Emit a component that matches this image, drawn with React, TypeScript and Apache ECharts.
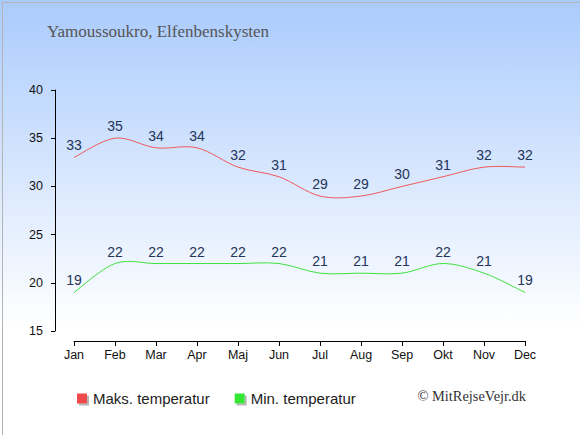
import React, { useEffect, useRef } from "react";
import * as echarts from "echarts";

const months = ["Jan", "Feb", "Mar", "Apr", "Maj", "Jun", "Jul", "Aug", "Sep", "Okt", "Nov", "Dec"];
const maxTemp = [33, 35, 34, 34, 32, 31, 29, 29, 30, 31, 32, 32];
const minTemp = [19, 22, 22, 22, 22, 22, 21, 21, 21, 22, 21, 19];
const yTicks = [15, 20, 25, 30, 35, 40];

const RED = "#f05a5a";
const GREEN = "#3ee23e";

function curveSeries(values: number[], color: string) {
  return {
    type: "custom",
    silent: true,
    z: 3,
    data: values.map((v, i) => [i, v]),
    renderItem: (params: any, api: any) => {
      if (params.dataIndex !== 0) return null;
      const pts = values.map((v, i) => api.coord([i, v]));
      let d = `M${pts[0][0]},${pts[0][1]}`;
      for (let i = 0; i < pts.length - 1; i++) {
        const p0 = pts[Math.max(0, i - 1)];
        const p1 = pts[i];
        const p2 = pts[i + 1];
        const p3 = pts[Math.min(pts.length - 1, i + 2)];
        const c1x = p1[0] + (p2[0] - p0[0]) / 6;
        const c1y = p1[1] + (p2[1] - p0[1]) / 6;
        const c2x = p2[0] - (p3[0] - p1[0]) / 6;
        const c2y = p2[1] - (p3[1] - p1[1]) / 6;
        d += ` C${c1x},${c1y} ${c2x},${c2y} ${p2[0]},${p2[1]}`;
      }
      return {
        type: "path",
        shape: { pathData: d },
        style: { fill: "none", stroke: color, lineWidth: 1 },
      };
    },
  };
}

export default function App() {
  const ref = useRef<HTMLDivElement>(null);
  useEffect(() => {
    document.body.style.margin = "0";
    const chart = echarts.init(ref.current!, null, { renderer: "svg" });
    const labelStyle = {
      show: true,
      position: "top" as const,
      distance: 5,
      color: "#24345a",
      fontSize: 14,
      fontFamily: "Liberation Sans, Arial, sans-serif",
    };
    chart.setOption({
      animation: false,
      backgroundColor: new echarts.graphic.LinearGradient(0, 0, 0, 1, [
        { offset: 0, color: "#aacbfd" },
        { offset: 0.75, color: "#ffffff" },
        { offset: 1, color: "#ffffff" },
      ]),
      title: {
        text: "Yamoussoukro, Elfenbenskysten",
        left: 42,
        top: 18,
        textStyle: {
          fontFamily: "Liberation Serif, Georgia, serif",
          fontWeight: "normal",
          fontSize: 17,
          color: "#555555",
        },
      },
      legend: {
        left: 72,
        top: 386,
        itemWidth: 10,
        itemHeight: 10,
        itemGap: 25,
        icon: "rect",
        textStyle: {
          fontFamily: "Liberation Sans, Arial, sans-serif",
          fontSize: 15,
          color: "#222222",
          padding: [0, 0, 0, 1],
        },
        data: [
          { name: "Maks. temperatur", itemStyle: { color: "#f04848", shadowColor: "#b8b8b8", shadowOffsetX: 2, shadowOffsetY: 2, shadowBlur: 0 } },
          { name: "Min. temperatur", itemStyle: { color: "#33e833", shadowColor: "#b8b8b8", shadowOffsetX: 2, shadowOffsetY: 2, shadowBlur: 0 } },
        ],
      },
      graphic: [
        {
          type: "rect",
          left: 0,
          top: 0,
          shape: { width: 579, height: 434 },
          style: { fill: "none", stroke: "#b4b4b4", lineWidth: 1 },
          silent: true,
        },
        {
          type: "text",
          right: 54,
          top: 389,
          style: {
            text: "© MitRejseVejr.dk",
            font: "14.4px 'Liberation Serif', Georgia, serif",
            fill: "#333333",
          },
        },
      ],
      grid: { left: 74, right: 55, top: 90, bottom: 104 },
      xAxis: {
        type: "category",
        data: months,
        boundaryGap: false,
        offset: 10,
        axisLine: { lineStyle: { color: "#000", width: 1 } },
        axisTick: { alignWithLabel: true, length: 5, lineStyle: { color: "#000" } },
        axisLabel: { color: "#111", fontSize: 12.5, fontFamily: "Liberation Sans, Arial, sans-serif", margin: 7 },
        splitLine: { show: false },
      },
      yAxis: {
        type: "value",
        min: yTicks[0],
        max: yTicks[yTicks.length - 1],
        interval: 5,
        offset: 19,
        axisLine: { show: true, lineStyle: { color: "#000", width: 1 } },
        axisTick: { show: true, length: 4, lineStyle: { color: "#000" } },
        axisLabel: { color: "#111", fontSize: 12.5, fontFamily: "Liberation Sans, Arial, sans-serif", margin: 12 },
        splitLine: { show: false },
      },
      series: [
        {
          name: "Maks. temperatur",
          type: "line",
          data: maxTemp,
          symbol: "circle",
          symbolSize: 0.01,
          lineStyle: { opacity: 0, width: 0 },
          itemStyle: { color: RED },
          label: labelStyle,
        },
        {
          name: "Min. temperatur",
          type: "line",
          data: minTemp,
          symbol: "circle",
          symbolSize: 0.01,
          lineStyle: { opacity: 0, width: 0 },
          itemStyle: { color: GREEN },
          label: labelStyle,
        },
        curveSeries(maxTemp, RED),
        curveSeries(minTemp, GREEN),
      ],
    });
    return () => chart.dispose();
  }, []);
  return <div ref={ref} style={{ position: "fixed", left: 0, top: 0, width: 580, height: 435 }} />;
}
